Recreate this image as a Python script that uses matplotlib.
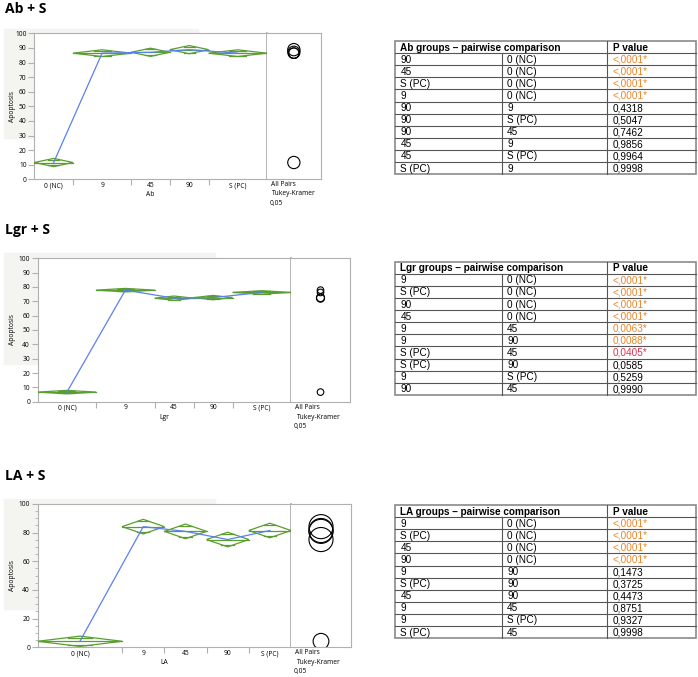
import matplotlib
matplotlib.use("Agg")
import matplotlib.pyplot as plt
import numpy as np
from matplotlib.patches import Polygon, Circle, Rectangle

W, H = 698, 677
DPI = 100

groups = ["0 (NC)", "9", "45", "90", "S (PC)"]

# Ab + S
ab_n = [2, 3, 2, 2, 3]
ab_mean = [11.5, 86.4, 87.0, 88.8, 86.4]
ab_ci = [2.8, 2.3, 2.8, 2.8, 2.3]
ab_rad = [4.2, 3.6, 4.2, 4.2, 3.6]

# Lgr + S
lgr_n = [3, 3, 2, 2, 3]
lgr_mean = [6.7, 77.8, 72.2, 72.6, 76.2]
lgr_ci = [1.2, 1.2, 1.5, 1.5, 1.2]
lgr_rad = [2.3, 2.3, 2.8, 2.8, 2.3]

# LA + S
la_n = [2, 1, 1, 1, 1]
la_mean = [4.2, 84.2, 80.9, 75.2, 81.5]
la_ci = [3.6, 5.1, 5.1, 5.1, 5.1]
la_rad = [5.5, 8.4, 8.4, 8.4, 8.4]

ab_g1 = ["90", "45", "S (PC)", "9", "90", "90", "90", "45", "45", "S (PC)"]
ab_g2 = ["0 (NC)", "0 (NC)", "0 (NC)", "0 (NC)", "9", "S (PC)", "45", "9", "S (PC)", "9"]
ab_p = ["<,0001*", "<,0001*", "<,0001*", "<,0001*", "0,4318", "0,5047",
        "0,7462", "0,9856", "0,9964", "0,9998"]

lgr_g1 = ["9", "S (PC)", "90", "45", "9", "9", "S (PC)", "S (PC)", "9", "90"]
lgr_g2 = ["0 (NC)", "0 (NC)", "0 (NC)", "0 (NC)", "45", "90", "45", "90", "S (PC)", "45"]
lgr_p = ["<,0001*", "<,0001*", "<,0001*", "<,0001*", "0,0063*", "0,0088*",
         "0,0405*", "0,0585", "0,5259", "0,9990"]

la_g1 = ["9", "S (PC)", "45", "90", "9", "S (PC)", "45", "9", "9", "S (PC)"]
la_g2 = ["0 (NC)", "0 (NC)", "0 (NC)", "0 (NC)", "90", "90", "90", "45", "S (PC)", "45"]
la_p = ["<,0001*", "<,0001*", "<,0001*", "<,0001*", "0,1473", "0,3725",
        "0,4473", "0,8751", "0,9327", "0,9998"]

GREEN = "#5a9e2f"
BLUE = "#5b80f0"
AXC = "#b0b0b0"
ORANGE = "#e8862a"
RED = "#e0334f"
CF = "Open Sans"
FS = 4.8

fig = plt.figure(figsize=(W / DPI, H / DPI), dpi=DPI)


def fbox(x0, y0, x1, y1):
    return [x0 / W, 1 - y1 / H, (x1 - x0) / W, (y1 - y0) / H]


def draw_chart(title, title_y, box, shade, n, means, ci, rad, xname, ystep, minor, foot_y):
    left, sep, right, top, bottom = box
    fig.text(5 / W, 1 - title_y / H, title, fontsize=10, fontweight="bold",
             family=CF, va="center", ha="left")
    sx0, sy0, sx1, sy1 = shade
    fig.patches.append(Rectangle((sx0 / W, 1 - sy1 / H), (sx1 - sx0) / W, (sy1 - sy0) / H,
                                 transform=fig.transFigure, color="#f4f4f0", zorder=-5))

    ax = fig.add_axes(fbox(left, top, sep, bottom))
    edges = np.concatenate([[0], np.cumsum(n)])
    centers = (edges[:-1] + edges[1:]) / 2
    ax.set_xlim(0, edges[-1])
    ax.set_ylim(0, 100)
    for i in range(len(n)):
        x0, x1, xm, m, h = edges[i], edges[i + 1], centers[i], means[i], ci[i]
        ax.add_patch(Polygon([(x0, m), (xm, m + h), (x1, m), (xm, m - h)], closed=True,
                             fill=False, ec=GREEN, lw=0.9, zorder=3))
        ax.plot([x0, x1], [m, m], color=GREEN, lw=0.9, zorder=3)
        d = h * np.sqrt(2) / 2
        hw = (x1 - x0) / 2 * (1 - np.sqrt(2) / 2)
        for s in (1, -1):
            ax.plot([xm - hw, xm + hw], [m + s * d, m + s * d], color=GREEN, lw=0.9, zorder=3)
    ax.plot(centers, means, color=BLUE, lw=0.9, zorder=4)

    ax.set_yticks(np.arange(0, 101, ystep))
    ax.set_yticklabels([str(v) for v in np.arange(0, 101, ystep)], family=CF, fontsize=FS)
    if minor:
        ax.set_yticks(np.arange(0, 101, minor), minor=True)
    ax.set_xticks(edges[1:-1])
    ax.set_xticklabels([])
    ax.set_xticks(centers, minor=True)
    ax.set_xticklabels(groups, minor=True, family=CF, fontsize=FS)
    ax.tick_params(axis="x", which="minor", length=0, pad=2)
    ax.tick_params(axis="x", which="major", length=4, color=AXC, width=0.8)
    ax.tick_params(axis="y", which="major", length=4, color=AXC, width=0.8, pad=1.5)
    ax.tick_params(axis="y", which="minor", length=2, color=AXC, width=0.6)
    for s in ("left", "bottom", "top"):
        ax.spines[s].set_color(AXC)
        ax.spines[s].set_linewidth(0.8)
    ax.spines["right"].set_color("#a8a8a8")
    ax.spines["right"].set_linewidth(1.2)
    ax.set_xlabel(xname, family=CF, fontsize=FS, labelpad=1)
    fig.text(12 / W, 1 - (top + bottom) / 2 / H, "Apoptosis", rotation=90, family=CF,
             fontsize=FS, ha="center", va="center")

    # comparison circles
    axc = fig.add_axes(fbox(sep, top, right, bottom))
    ppu = (bottom - top) / 100
    wu = (right - sep) / ppu
    axc.set_xlim(0, wu)
    axc.set_ylim(0, 100)
    for m, r in zip(means, rad):
        axc.add_patch(Circle((wu / 2, m), r, fill=False, ec="black", lw=0.8))
    axc.set_xticks([])
    axc.set_yticks([])
    for s in ("top", "right", "bottom"):
        axc.spines[s].set_color(AXC)
        axc.spines[s].set_linewidth(0.8)
    axc.spines["left"].set_visible(False)
    fx = (sep + 4) / W
    for k, t in enumerate(["All Pairs", "Tukey-Kramer", "0,05"]):
        fig.text(fx + (1.5 / W if k == 1 else (-1 / W if k == 2 else 0)),
                 1 - (foot_y + k * 9.6) / H, t, family=CF, fontsize=FS, ha="left", va="center")


def p_color(p):
    if p.startswith("<"):
        return ORANGE
    v = float(p.rstrip("*").replace(",", "."))
    if v < 0.01:
        return ORANGE
    if v < 0.05:
        return RED
    return "black"


tax = fig.add_axes([0, 0, 1, 1])
tax.set_xlim(0, W)
tax.set_ylim(H, 0)
tax.axis("off")
tax.patch.set_alpha(0)


def draw_table(name, top, g1, g2, p):
    cols = [395, 501.7, 607.3, 696]
    rh = 12.1
    pad = 5.5
    nrow = len(p) + 1
    bot = top + rh * nrow
    lc = "#555555"
    for i in range(1, nrow):
        tax.plot([cols[0], cols[-1]], [top + i * rh] * 2, color=lc, lw=0.8)
    tax.plot([cols[1]] * 2, [top + rh, bot], color=lc, lw=0.8)
    tax.plot([cols[2]] * 2, [top, bot], color=lc, lw=0.8)
    tax.add_patch(Rectangle((cols[0], top), cols[-1] - cols[0], bot - top, fill=False,
                            ec="#8a8a8a", lw=1.2))
    tf = "Liberation Sans"
    ts = 7.2
    tax.text(cols[0] + pad, top + rh / 2 + 0.5, name + " groups \u2013 pairwise comparison",
             family=tf, fontsize=ts, fontweight="bold", va="center")
    tax.text(cols[2] + pad, top + rh / 2 + 0.5, "P value", family=tf, fontsize=ts,
             fontweight="bold", va="center")
    for i in range(len(p)):
        y = top + rh * (i + 1.5) + 0.5
        tax.text(cols[0] + pad, y, g1[i], family=tf, fontsize=ts, va="center")
        tax.text(cols[1] + pad, y, g2[i], family=tf, fontsize=ts, va="center")
        tax.text(cols[2] + pad, y, p[i], family=tf, fontsize=ts, va="center", color=p_color(p[i]))


draw_chart("Ab + S", 9, (34.3, 266.7, 321, 33.3, 179.3), (4, 29, 198, 138),
           ab_n, ab_mean, ab_ci, ab_rad, "Ab", 10, None, 184)
draw_chart("Lgr + S", 230, (37.7, 291, 350, 258.3, 401.7), (4, 253, 215, 364),
           lgr_n, lgr_mean, lgr_ci, lgr_rad, "Lgr", 10, None, 407.7)
draw_chart("LA + S", 476, (37.7, 291, 351, 504, 647.3), (4, 499, 215, 609),
           la_n, la_mean, la_ci, la_rad, "LA", 20, 5, 652.7)

draw_table("Ab", 41, ab_g1, ab_g2, ab_p)
draw_table("Lgr", 261.7, lgr_g1, lgr_g2, lgr_p)
draw_table("LA", 505, la_g1, la_g2, la_p)

fig.savefig("out.png", dpi=DPI)
